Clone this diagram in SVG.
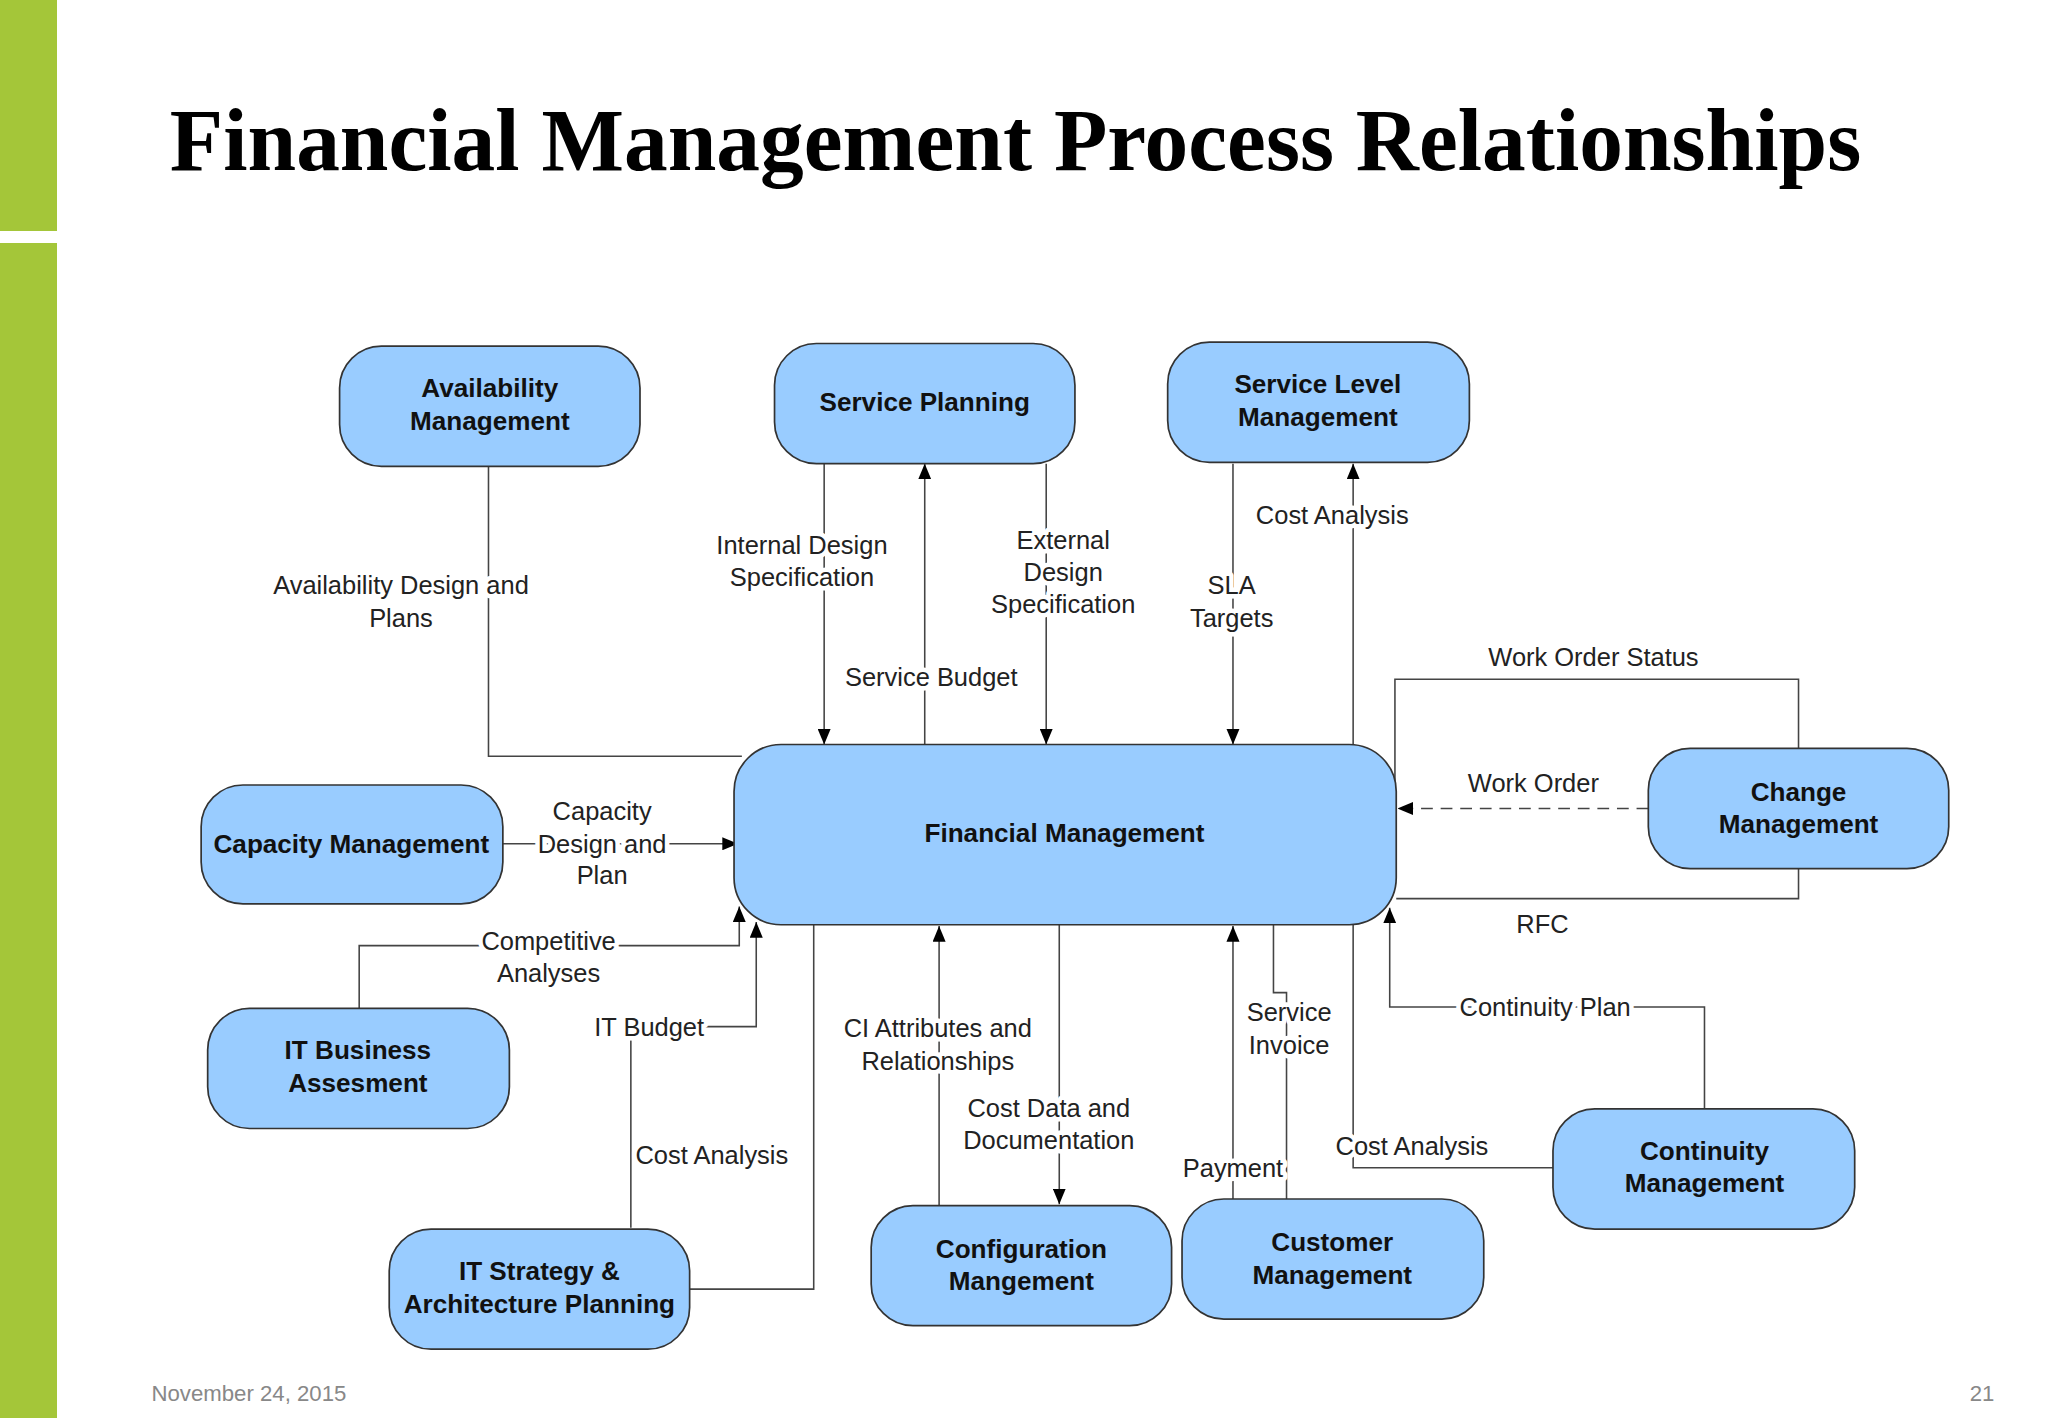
<svg xmlns="http://www.w3.org/2000/svg" width="2048" height="1418" viewBox="0 0 2048 1418">
<defs>
<marker id="ah" viewBox="0 0 12 10" refX="12" refY="5" markerWidth="12" markerHeight="10" markerUnits="userSpaceOnUse" orient="auto"><path d="M0,0 L12,5 L0,10 z" fill="#000"/></marker>
<style>
.n{fill:#99CCFF;stroke:#333;stroke-width:1.3}
.nt{font-family:"Liberation Sans",Arial,sans-serif;font-weight:bold;font-size:20px;fill:#111;text-anchor:middle}
.c{fill:none;stroke:#444;stroke-width:1.2}
.l{font-family:"Liberation Sans",Arial,sans-serif;font-size:19.5px;fill:#222;text-anchor:middle;paint-order:stroke;stroke:#fff;stroke-width:7px;stroke-linejoin:round}
</style>
</defs>
<rect width="2048" height="1418" fill="#fff"/>
<rect x="0" y="0" width="57" height="231" fill="#A4C639"/>
<rect x="0" y="243" width="57" height="1175" fill="#A4C639"/>
<g transform="scale(1.30612)">
<text x="130" y="130" font-family="Liberation Serif,serif" font-weight="bold" font-size="68" textLength="1295" lengthAdjust="spacingAndGlyphs" fill="#000">Financial Management Process Relationships</text>
<g id="connectors">
<path class="c" d="M374,357 V579 H568"/>
<path class="c" d="M631,355 V570" marker-end="url(#ah)"/>
<path class="c" d="M708,570 V355" marker-end="url(#ah)"/>
<path class="c" d="M801,355 V570" marker-end="url(#ah)"/>
<path class="c" d="M944,355 V570" marker-end="url(#ah)"/>
<path class="c" d="M1036,570 V355" marker-end="url(#ah)"/>
<path class="c" d="M1068,600 V520 H1377 V573"/>
<path class="c" d="M1262,619 H1070" stroke-dasharray="9,6" marker-end="url(#ah)"/>
<path class="c" d="M1377,665 V688 H1069"/>
<path class="c" d="M385,646 H565" marker-end="url(#ah)"/>
<path class="c" d="M275,772 V724 H566 V694" marker-end="url(#ah)"/>
<path class="c" d="M483,940 V786 H579 V706" marker-end="url(#ah)"/>
<path class="c" d="M528,987 H623 V708"/>
<path class="c" d="M719,923 V709" marker-end="url(#ah)"/>
<path class="c" d="M811,708 V922" marker-end="url(#ah)"/>
<path class="c" d="M944,918 V709" marker-end="url(#ah)"/>
<path class="c" d="M975,708 V760 H985 V918"/>
<path class="c" d="M1036,708 V894 H1189"/>
<path class="c" d="M1305,849 V771 H1064 V695" marker-end="url(#ah)"/>
</g>
<g id="edge-labels">
<text class="l" x="307" y="455">Availability Design and</text><text class="l" x="307" y="480">Plans</text>
<text class="l" x="614" y="424">Internal Design</text><text class="l" x="614" y="449">Specification</text>
<text class="l" x="713" y="525">Service Budget</text>
<text class="l" x="814" y="420">External</text><text class="l" x="814" y="445">Design</text><text class="l" x="814" y="469">Specification</text>
<text class="l" x="943" y="455">SLA</text><text class="l" x="943" y="480">Targets</text>
<text class="l" x="1020" y="401">Cost Analysis</text>
<text class="l" x="1220" y="510">Work Order Status</text>
<text class="l" x="1174" y="606">Work Order</text>
<text class="l" x="1181" y="714">RFC</text>
<text class="l" x="461" y="628">Capacity</text><text class="l" x="461" y="653">Design and</text><text class="l" x="461" y="677">Plan</text>
<text class="l" x="420" y="727">Competitive</text><text class="l" x="420" y="752">Analyses</text>
<text class="l" x="497" y="793">IT Budget</text>
<text class="l" x="545" y="891">Cost Analysis</text>
<text class="l" x="718" y="794">CI Attributes and</text><text class="l" x="718" y="819">Relationships</text>
<text class="l" x="803" y="855">Cost Data and</text><text class="l" x="803" y="880">Documentation</text>
<text class="l" x="987" y="782">Service</text><text class="l" x="987" y="807">Invoice</text>
<text class="l" x="944" y="901">Payment</text>
<text class="l" x="1081" y="884">Cost Analysis</text>
<text class="l" x="1183" y="778">Continuity Plan</text>
</g>
<g id="availability"><rect class="n" x="260" y="265" width="230" height="92" rx="32"/><text class="nt" x="375" y="304">Availability</text><text class="nt" x="375" y="329">Management</text></g>
<g id="service-planning"><rect class="n" x="593" y="263" width="230" height="92" rx="32"/><text class="nt" x="708" y="315">Service Planning</text></g>
<g id="service-level"><rect class="n" x="894" y="262" width="231" height="92" rx="32"/><text class="nt" x="1009" y="301">Service Level</text><text class="nt" x="1009" y="326">Management</text></g>
<g id="financial"><rect class="n" x="562" y="570" width="507" height="138" rx="36"/><text class="nt" x="815" y="645" font-size="22">Financial Management</text></g>
<g id="capacity"><rect class="n" x="154" y="601" width="231" height="91" rx="32"/><text class="nt" x="269" y="653">Capacity Management</text></g>
<g id="change"><rect class="n" x="1262" y="573" width="230" height="92" rx="32"/><text class="nt" x="1377" y="613">Change</text><text class="nt" x="1377" y="638">Management</text></g>
<g id="it-business"><rect class="n" x="159" y="772" width="231" height="92" rx="32"/><text class="nt" x="274" y="811">IT Business</text><text class="nt" x="274" y="836">Assesment</text></g>
<g id="it-strategy"><rect class="n" x="298" y="941" width="230" height="92" rx="32"/><text class="nt" x="413" y="980">IT Strategy &amp;</text><text class="nt" x="413" y="1005">Architecture Planning</text></g>
<g id="configuration"><rect class="n" x="667" y="923" width="230" height="92" rx="32"/><text class="nt" x="782" y="963">Configuration</text><text class="nt" x="782" y="988">Mangement</text></g>
<g id="customer"><rect class="n" x="905" y="918" width="231" height="92" rx="32"/><text class="nt" x="1020" y="958">Customer</text><text class="nt" x="1020" y="983">Management</text></g>
<g id="continuity"><rect class="n" x="1189" y="849" width="231" height="92" rx="32"/><text class="nt" x="1305" y="888">Continuity</text><text class="nt" x="1305" y="913">Management</text></g>
<text x="116" y="1073" font-family="Liberation Sans,sans-serif" font-size="17" fill="#888">November 24, 2015</text>
<text x="1527" y="1073" font-family="Liberation Sans,sans-serif" font-size="17" fill="#888" text-anchor="end">21</text>
</g>
</svg>
